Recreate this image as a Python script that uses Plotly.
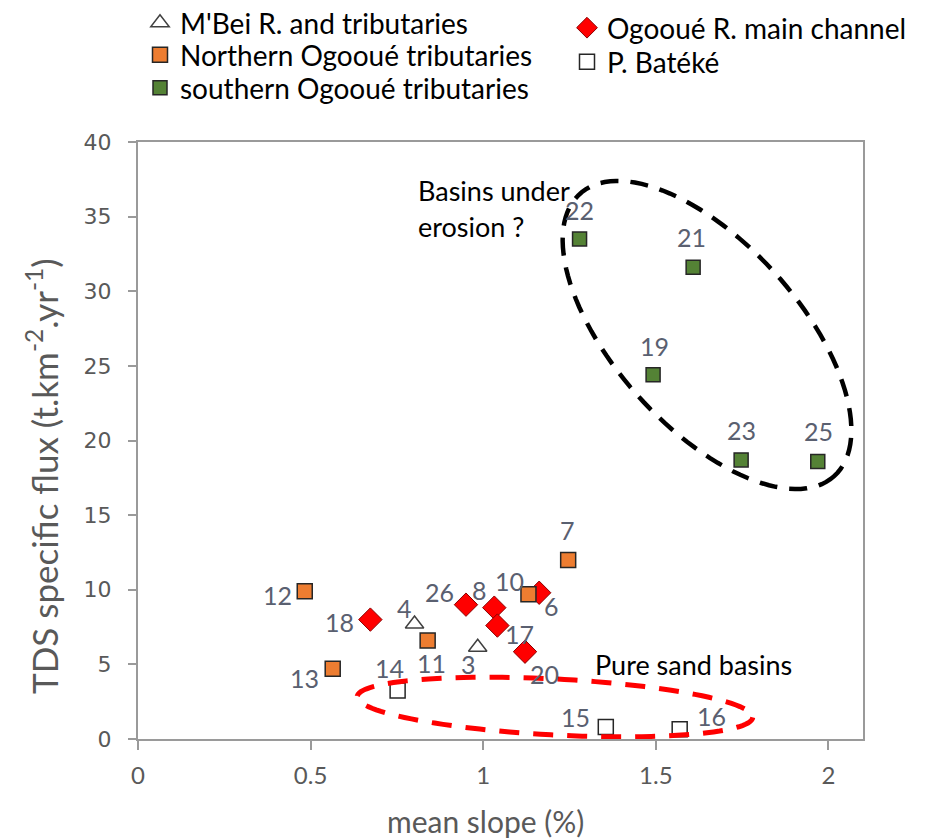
import numpy as np
import plotly.graph_objects as go

# ---------------- data ----------------
mbei_ids = ["4", "3"]
mbei_x = [0.801, 0.984]
mbei_y = [7.7, 6.15]

north_ids = ["12", "13", "11", "10", "7"]
north_x = [0.483, 0.564, 0.839, 1.131, 1.246]
north_y = [9.9, 4.7, 6.6, 9.7, 12.0]

south_ids = ["22", "21", "19", "23", "25"]
south_x = [1.279, 1.608, 1.492, 1.747, 1.969]
south_y = [33.5, 31.6, 24.4, 18.7, 18.6]

main_ids = ["18", "26", "8", "6", "17", "20"]
main_x = [0.673, 0.950, 1.032, 1.162, 1.041, 1.121]
main_y = [8.0, 9.0, 8.8, 9.8, 7.6, 5.85]

bateke_ids = ["14", "15", "16"]
bateke_x = [0.752, 1.355, 1.569]
bateke_y = [3.25, 0.8, 0.65]

x_ticks = [0, 0.5, 1, 1.5, 2]
x_ticktext = ["0", "0.5", "1", "1.5", "2"]
y_ticks = [0, 5, 10, 15, 20, 25, 30, 35, 40]

# label offsets (pixels, screen: +x right, +y down)
label_offsets = {
    "22": (0, -29), "21": (-2, -30), "19": (1, -29), "23": (0, -30), "25": (1, -30),
    "7": (-1, -30), "12": (-27, 4), "13": (-28, 9), "11": (4, 22), "10": (-19, -13),
    "6": (12, 13), "18": (-31, 2), "26": (-26, -13), "8": (-15, -18), "17": (22, 8),
    "20": (19, 22), "4": (-10, -16), "3": (-9, 17), "14": (-8, -22), "15": (-30, -10),
    "16": (32, -13),
}

# ---------------- layout constants ----------------
W, H = 927, 839
OFF = 8  # page body margin
ML, MR, MT, MB = 130, 72, 134, 108
XR = [0, 2.1]
YR = [0, 40]
PW, PH = W - ML - MR, H - MT - MB
sx = PW / (XR[1] - XR[0])
sy = PH / (YR[1] - YR[0])


def dx_(px):  # screen px -> data x
    return (px - OFF - ML) / sx


def dy_(py):  # screen px -> data y
    return YR[1] - (py - OFF - MT) / sy


def lx(px):  # screen px -> paper x
    return (px - OFF - ML) / PW


def ly(py):  # screen px -> paper y
    return 1 + (MT - (py - OFF)) / PH


FONT = "Lato"
LABEL_COL = "#5a6070"
AX_COL = "#595959"

fig = go.Figure()

edge = dict(color="#262626", width=1.5)
t_mbei = go.Scatter(x=mbei_x, y=mbei_y, mode="markers", name="M'Bei R. and tributaries",
                    marker=dict(symbol="triangle-up", size=16, color="white",
                                line=dict(color="#404040", width=1.5)), legend="legend")
t_north = go.Scatter(x=north_x, y=north_y, mode="markers", name="Northern Ogooué tributaries",
                     marker=dict(symbol="square", size=15, color="#ed7d31", line=edge), legend="legend2")
t_south = go.Scatter(x=south_x, y=south_y, mode="markers", name="southern Ogooué tributaries",
                     marker=dict(symbol="square", size=14, color="#548235", line=edge), legend="legend3")
t_main = go.Scatter(x=main_x, y=main_y, mode="markers", name="Ogooué R. main channel",
                    marker=dict(symbol="diamond", size=18, color="#ff0000",
                                line=dict(color="#8b0000", width=1)), legend="legend4")
t_bat = go.Scatter(x=bateke_x, y=bateke_y, mode="markers", name="P. Batéké",
                   marker=dict(symbol="square", size=15, color="white", line=edge), legend="legend5")
for t in (t_mbei, t_main, t_north, t_south, t_bat):
    fig.add_trace(t)

annotations = []
for ids, xs, ys in [(mbei_ids, mbei_x, mbei_y), (north_ids, north_x, north_y),
                    (south_ids, south_x, south_y), (main_ids, main_x, main_y),
                    (bateke_ids, bateke_x, bateke_y)]:
    for i, xv, yv in zip(ids, xs, ys):
        ox, oy = label_offsets[i]
        annotations.append(dict(x=xv, y=yv, xref="x", yref="y", text=i, showarrow=False,
                                xshift=ox, yshift=-oy,
                                font=dict(family=FONT, size=25, color=LABEL_COL)))

annotations += [
    dict(x=dx_(416), y=dy_(190), xref="x", yref="y", text="Basins under",
         showarrow=False, xanchor="left", font=dict(family=FONT, size=27, color="black")),
    dict(x=dx_(416), y=dy_(226), xref="x", yref="y", text="erosion ?",
         showarrow=False, xanchor="left", font=dict(family=FONT, size=27, color="black")),
    dict(x=dx_(593), y=dy_(664), xref="x", yref="y", text="Pure sand basins",
         showarrow=False, xanchor="left", font=dict(family=FONT, size=27, color="black")),
    # axis titles
    dict(x=lx(485), y=ly(821), xref="paper", yref="paper", text="mean slope (%)",
         showarrow=False, xanchor="center", yanchor="middle",
         font=dict(family=FONT, size=30, color=AX_COL)),
    dict(x=lx(42), y=ly(476), xref="paper", yref="paper", textangle=-90,
         text="TDS specific flux (t.km<sup>-2</sup>.yr<sup>-1</sup>)",
         showarrow=False, xanchor="center", yanchor="middle",
         font=dict(family=FONT, size=35, color=AX_COL)),
]


def ellipse_path(cx, cy, a_px, b_px, ang_deg, n=120):
    t = np.linspace(0, 2 * np.pi, n)
    p = np.radians(ang_deg)
    ex = a_px * np.cos(t) * np.cos(p) - b_px * np.sin(t) * np.sin(p)
    ey = a_px * np.cos(t) * np.sin(p) + b_px * np.sin(t) * np.cos(p)
    xs = cx + ex / sx
    ys = cy - ey / sy
    pts = [f"{xv:.4f},{yv:.4f}" for xv, yv in zip(xs, ys)]
    return "M " + " L ".join(pts) + " Z"


shapes = [
    dict(type="path", xref="x", yref="y",
         path=ellipse_path(dx_(707), dy_(335), 190, 92, 48),
         line=dict(color="black", width=4.5, dash="18px,12px")),
    dict(type="path", xref="x", yref="y",
         path=ellipse_path(dx_(555), dy_(707), 198, 28, 3),
         line=dict(color="#ff0000", width=5, dash="20px,14px")),
]

leg_common = dict(xanchor="left", yanchor="middle", font=dict(family=FONT, size=28, color="black"),
                  bgcolor="rgba(0,0,0,0)", itemwidth=30)

fig.update_layout(
    width=W, height=H,
    showlegend=True,
    margin=dict(l=ML, r=MR, t=MT, b=MB, autoexpand=False),
    paper_bgcolor="white", plot_bgcolor="white",
    font=dict(family=FONT, color=AX_COL),
    annotations=annotations, shapes=shapes,
    legend=dict(x=lx(160 - 20), y=ly(23), **leg_common),
    legend2=dict(x=lx(160 - 20), y=ly(55), **leg_common),
    legend3=dict(x=lx(160 - 20), y=ly(88), **leg_common),
    legend4=dict(x=lx(587 - 20), y=ly(28), **leg_common),
    legend5=dict(x=lx(587 - 20), y=ly(62), **leg_common),
    xaxis=dict(range=XR, tickvals=x_ticks, ticktext=x_ticktext, showgrid=False, zeroline=False,
               showline=True, linecolor="#9a9a9a", linewidth=2, mirror=True,
               ticks="outside", ticklen=9, tickcolor="#9a9a9a", tickwidth=2,
               ticklabelstandoff=5,
               tickfont=dict(family=FONT, size=24, color=AX_COL)),
    yaxis=dict(range=YR, tickvals=y_ticks, showgrid=False, zeroline=False,
               showline=True, linecolor="#9a9a9a", linewidth=2, mirror=True,
               ticks="outside", ticklen=8, tickcolor="#9a9a9a", tickwidth=2,
               ticklabelstandoff=12,
               tickfont=dict(family="DejaVu Sans", size=22, color=AX_COL)),
)

fig.write_html("out.html")
